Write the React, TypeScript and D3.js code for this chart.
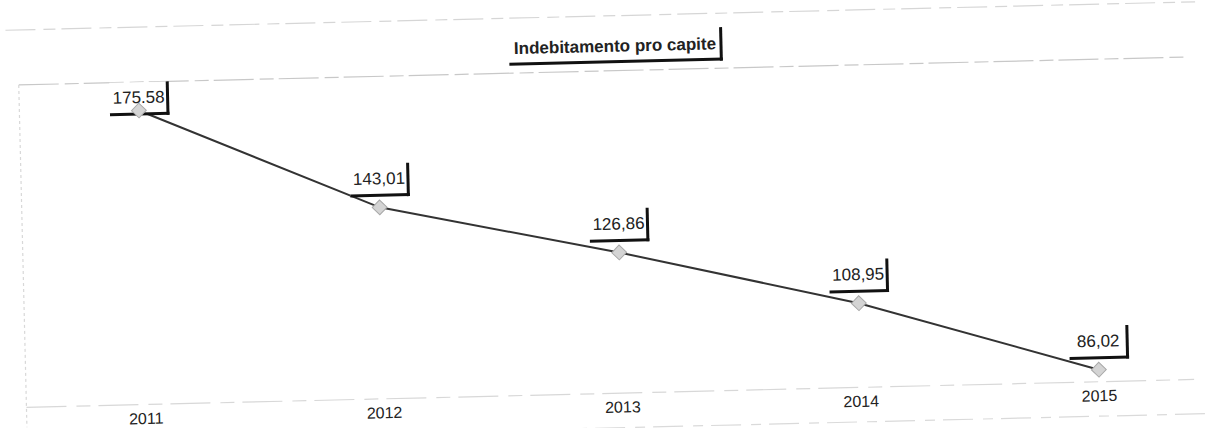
import React from "react";
import * as d3 from "d3";

const years = ["2011", "2012", "2013", "2014", "2015"];
const values = [175.58, 143.01, 126.86, 108.95, 86.02];
const valueLabels = ["175.58", "143,01", "126,86", "108,95", "86,02"];
const title = "Indebitamento pro capite";

const W = 1208;
const H = 428;
const plot = { left: 22, right: 1190, top: 71, bottom: 393.5 };
const FONT = "'Liberation Sans', Arial, sans-serif";

export default function App() {
  const x = d3.scalePoint<string>().domain(years).range([141.5, 1095]);
  const y = d3.scaleLinear().domain([82.2, 184.6]).range([plot.bottom, plot.top]);
  const pts = years.map((yr, i) => [x(yr) as number, y(values[i])] as [number, number]);
  const line = d3.line()(pts) || "";
  const marker = d3.symbol().type(d3.symbolSquare).size(110)() || "";

  const boxW = 58;
  const boxH = 32;

  return (
    <svg
      width={W}
      height={H}
      style={{ position: "absolute", left: 0, top: 0, background: "#fff" }}
      fontFamily={FONT}
    >
      <g transform="rotate(-1.37 604 214)">
        {/* faint scanned frame lines */}
        <line x1={10} x2={1200} y1={16} y2={16} stroke="#d6d6d6" strokeWidth={1.2} strokeDasharray="30 8 12 6" />
        <line x1={plot.left} x2={plot.right} y1={plot.top} y2={plot.top} stroke="#c8c8c8" strokeWidth={1.2} strokeDasharray="40 6 14 5" />
        <line x1={plot.left} x2={plot.right} y1={plot.bottom} y2={plot.bottom} stroke="#d8d8d8" strokeWidth={1.2} strokeDasharray="40 10 14 8" />
        <line x1={plot.left} x2={plot.left} y1={plot.top} y2={plot.bottom + 20} stroke="#d8d8d8" strokeWidth={1.2} strokeDasharray="3 3" />
        <line x1={10} x2={1200} y1={428} y2={428} stroke="#dadada" strokeWidth={1.2} strokeDasharray="30 10 10 8" />

        {/* title */}
        <rect x={513} y={30} width={212} height={32} fill="#fff" />
        <line x1={725} x2={725} y1={30} y2={63.5} stroke="#111" strokeWidth={3} />
        <line x1={513} x2={726.5} y1={62} y2={62} stroke="#111" strokeWidth={3} />
        <text x={619} y={52} textAnchor="middle" fontSize={17} fontWeight="bold" fill="#222">
          {title}
        </text>

        {/* line */}
        <path d={line} fill="none" stroke="#333" strokeWidth={2} />

        {/* value labels */}
        {pts.map(([px, py], i) => {
          let top = py - 12 - boxH;
          if (top < plot.top) top = plot.top;
          const left = px - boxW / 2;
          return (
            <g key={"l" + i}>
              <rect x={left} y={top} width={boxW} height={boxH} fill="#fff" fillOpacity={0.9} />
              <line x1={left + boxW} x2={left + boxW} y1={top} y2={top + boxH + 1.5} stroke="#111" strokeWidth={3} />
              <line x1={left} x2={left + boxW + 1.5} y1={top + boxH} y2={top + boxH} stroke="#111" strokeWidth={3} />
              <text x={px} y={top + 21} textAnchor="middle" fontSize={17} fill="#222">
                {valueLabels[i]}
              </text>
            </g>
          );
        })}

        {/* markers */}
        {pts.map(([px, py], i) => (
          <path
            key={"m" + i}
            d={marker}
            transform={`translate(${px},${py}) rotate(45)`}
            fill="#d4d4d4"
            stroke="#a8a8a8"
            strokeWidth={1}
          />
        ))}

        {/* category labels */}
        {years.map((yr) => (
          <text key={yr} x={x(yr) as number} y={413} textAnchor="middle" fontSize={16} fill="#222">
            {yr}
          </text>
        ))}
      </g>
    </svg>
  );
}
